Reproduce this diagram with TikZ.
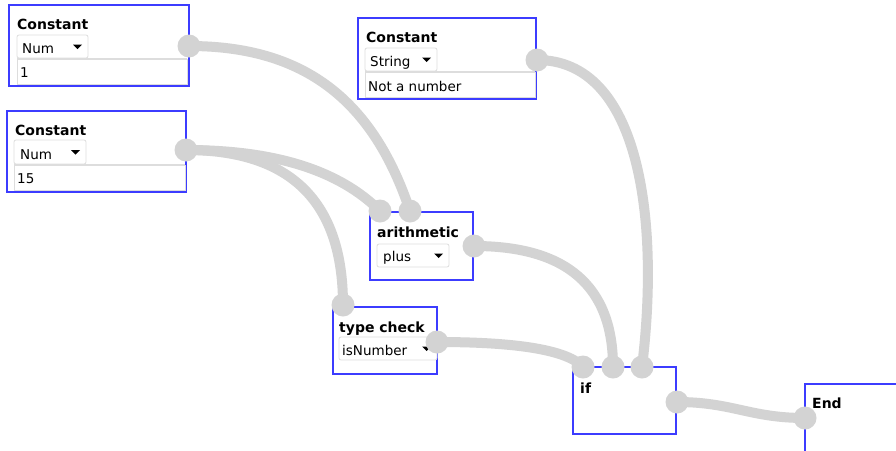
\documentclass[tikz,border=0pt]{standalone}
\usepackage{fontspec}
\setmainfont{DejaVu Sans}
\usetikzlibrary{calc,backgrounds}
\definecolor{blockblue}{HTML}{3C3CFF}
\definecolor{wiregray}{HTML}{D3D3D3}
\definecolor{ddgray}{HTML}{DDDDDD}
\begin{document}
\begin{tikzpicture}[x=1pt,y=-1pt,
  block/.style={draw=blockblue, line width=1.3pt, fill=white, anchor=north west, inner sep=0pt, outer sep=0pt},
  title/.style={anchor=base west, inner sep=0pt, font=\fontsize{14}{16}\selectfont\bfseries},
  txt/.style={anchor=base west, inner sep=0pt, font=\fontsize{13.5}{16}\selectfont},
  dropdown/.style={draw=ddgray, line width=0.8pt, fill=white, rounded corners=2pt, anchor=north west, inner sep=0pt, outer sep=0pt},
  field/.style={draw=ddgray, line width=0.8pt, fill=white, anchor=north west, inner sep=0pt, outer sep=0pt},
  port/.style={circle, fill=wiregray, minimum size=23pt, inner sep=0pt},
  wire/.style={draw=wiregray, line width=10pt, line cap=round},
  arrowtri/.style={fill=black}
]
\useasboundingbox (0,0) rectangle (896,450);

% ---------- blocks ----------
% Constant 1
\node[block, minimum width=180pt, minimum height=81pt] (c1) at (9,5) {};
\node[title] (c1t) at (17,29) {Constant};
\node[dropdown, minimum width=71pt, minimum height=23pt] (c1d) at (17,35) {};
\node[txt] (c1dt) at (22,53) {Num};
\node[field, minimum width=170pt, minimum height=25pt] (c1f) at (17,59) {};
\draw[ddgray, line width=2pt] (c1f.north west) -- (c1f.north east);
\node[txt] (c1ft) at (20,77) {1};

% Constant String
\node[block, minimum width=178pt, minimum height=81pt] (c2) at (358,18) {};
\node[title] (c2t) at (366,42) {Constant};
\node[dropdown, minimum width=72pt, minimum height=23pt] (c2d) at (365,48) {};
\node[txt] (c2dt) at (370,66) {String};
\node[field, minimum width=170pt, minimum height=25pt] (c2f) at (365,72) {};
\draw[ddgray, line width=2pt] (c2f.north west) -- (c2f.north east);
\node[txt] (c2ft) at (368,91) {Not a number};

% Constant 15
\node[block, minimum width=179pt, minimum height=81pt] (c3) at (7,111) {};
\node[title] (c3t) at (15,135) {Constant};
\node[dropdown, minimum width=72pt, minimum height=24pt] (c3d) at (14,140) {};
\node[txt] (c3dt) at (20,159) {Num};
\node[field, minimum width=171pt, minimum height=25pt] (c3f) at (14,165) {};
\draw[ddgray, line width=2pt] (c3f.north west) -- (c3f.north east);
\node[txt] (c3ft) at (17,183) {15};

% arithmetic
\node[block, minimum width=103pt, minimum height=68pt] (ar) at (370,212) {};
\node[title] (art) at (377,237) {arithmetic};
\node[dropdown, minimum width=72pt, minimum height=23pt] (ard) at (377,244) {};
\node[txt] (ardt) at (383,261) {plus};

% type check
\node[block, minimum width=104pt, minimum height=67pt] (tc) at (333,307) {};
\node[title] (tct) at (339,332) {type check};
\node[dropdown, minimum width=98pt, minimum height=23pt] (tcd) at (339,337) {};
\node[txt] (tcdt) at (342,355) {isNumber};

% if
\node[block, minimum width=103pt, minimum height=67pt] (iff) at (573,367) {};
\node[title] (ift) at (580,393) {if};

% End
\node[block, minimum width=100pt, minimum height=80pt] (en) at (805,384) {};
\node[title] (ent) at (812,408) {End};

% dropdown triangles
\foreach \d in {c1d,c2d,c3d,ard,tcd}{
  \fill[arrowtri] ($(\d.east)+(-15,-2)$) -- ++(9,0) -- ++(-4.5,4.5) -- cycle;
}

% ---------- ports ----------
\node[port] (c1o) at (189,46) {};
\node[port] (c2o) at (537,60) {};
\node[port] (c3o) at (186,150) {};
\node[port] (ari1) at (380,211) {};
\node[port] (ari2) at (410,211) {};
\node[port] (aro) at (474,246) {};
\node[port] (tci) at (343,305) {};
\node[port] (tco) at (437,342) {};
\node[port] (ifi1) at (583,367) {};
\node[port] (ifi2) at (613,367) {};
\node[port] (ifi3) at (642,367) {};
\node[port] (ifo) at (677,402) {};
\node[port] (eni) at (805,418) {};

% ---------- wires (behind) ----------
\coordinate (q1) at (355,46);
\coordinate (q2) at (319,150);
\coordinate (q3) at (343,150);
\coordinate (q5) at (613,246);
\coordinate (q6) at (560,342);
\begin{scope}[on background layer]
\fill[white] (0,0) rectangle (896,450);
\draw[wire] (c1o.center) .. controls ($(c1o.center)!.7!(q1)$) and ($(ari2.center)!.667!(q1)$) .. (ari2.center);
\draw[wire] (c3o.center) .. controls ($(c3o.center)!.667!(q2)$) and ($(ari1.center)!.667!(q2)$) .. (ari1.center);
\draw[wire] (c3o.center) .. controls ($(c3o.center)!.667!(q3)$) and ($(tci.center)!.667!(q3)$) .. (tci.center);
\draw[wire] (c2o.center) .. controls ($(c2o.center)+(103,0)$) and ($(ifi3.center)+(18,-147)$) .. (ifi3.center);
\draw[wire] (aro.center) .. controls ($(aro.center)!.667!(q5)$) and ($(ifi2.center)!.667!(q5)$) .. (ifi2.center);
\draw[wire] (tco.center) .. controls ($(tco.center)!.667!(q6)$) and ($(ifi1.center)!.667!(q6)$) .. (ifi1.center);
\draw[wire] (ifo.center) .. controls ($(ifo.center)+(55,0)$) and ($(eni.center)+(-55,0)$) .. (eni.center);
\end{scope}
\end{tikzpicture}
\end{document}
